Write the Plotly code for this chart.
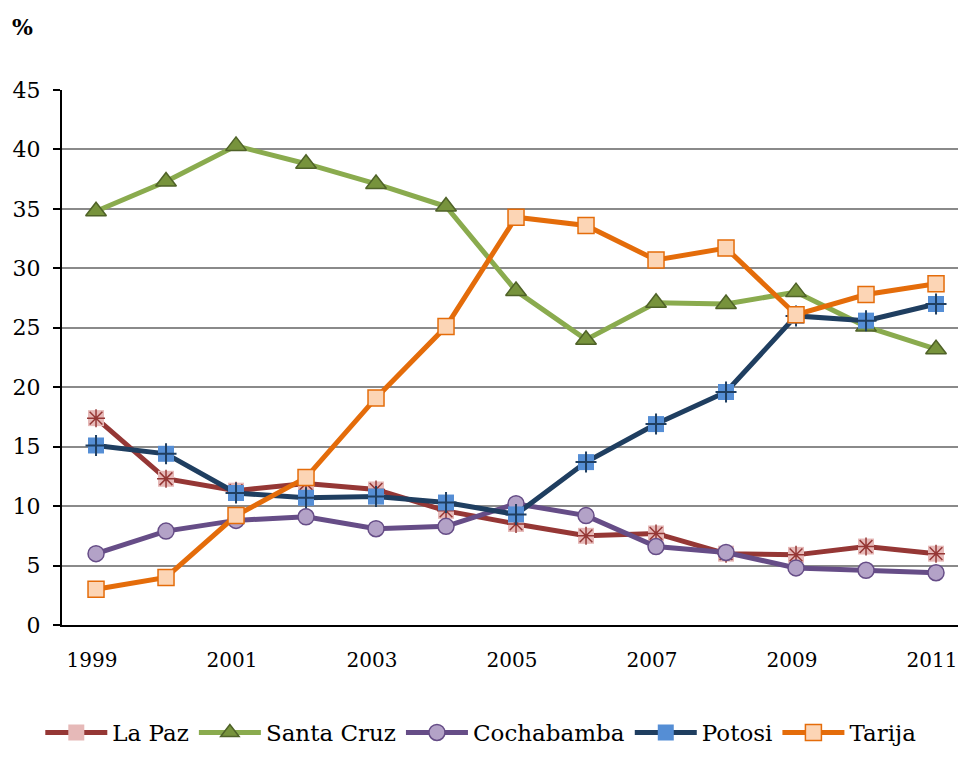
import plotly.graph_objects as go

years = list(range(1999, 2012))
x_ticks = [1999, 2001, 2003, 2005, 2007, 2009, 2011]

la_paz = [17.4, 12.3, 11.3, 11.9, 11.4, 9.6, 8.5, 7.5, 7.7, 6.0, 5.9, 6.6, 6.0]
santa_cruz = [34.8, 37.3, 40.3, 38.8, 37.1, 35.2, 28.1, 24.0, 27.1, 27.0, 28.0, 25.1, 23.2]
cochabamba = [6.0, 7.9, 8.8, 9.1, 8.1, 8.3, 10.2, 9.2, 6.6, 6.1, 4.8, 4.6, 4.4]
potosi = [15.1, 14.4, 11.1, 10.7, 10.8, 10.3, 9.3, 13.7, 16.9, 19.6, 26.0, 25.6, 27.0]
tarija = [3.0, 4.0, 9.2, 12.4, 19.1, 25.1, 34.3, 33.6, 30.7, 31.7, 26.1, 27.8, 28.7]

FONT = "DejaVu Serif, Georgia, serif"

fig = go.Figure()

# La Paz: pink square with a red asterisk on top
fig.add_trace(go.Scatter(
    x=years, y=la_paz, name='La Paz', mode='lines+markers',
    line=dict(color='#953735', width=5),
    marker=dict(symbol='square', size=16, color='#e6b9b8', line=dict(width=0))
))
fig.add_trace(go.Scatter(
    x=years, y=la_paz, mode='markers', showlegend=False, hoverinfo='skip',
    marker=dict(symbol='asterisk-open', size=15, color='#953735',
                line=dict(color='#953735', width=1.5))
))

fig.add_trace(go.Scatter(
    x=years, y=santa_cruz, name='Santa Cruz', mode='lines+markers',
    line=dict(color='#8aab4e', width=5),
    marker=dict(symbol='triangle-up', size=18, color='#77933c',
                line=dict(color='#4f6228', width=1.5))
))

fig.add_trace(go.Scatter(
    x=years, y=cochabamba, name='Cochabamba', mode='lines+markers',
    line=dict(color='#664d87', width=5),
    marker=dict(symbol='circle', size=16, color='#b3a2c7',
                line=dict(color='#664d87', width=1.5))
))

# Potosi: blue square with a dark cross
fig.add_trace(go.Scatter(
    x=years, y=potosi, name='Potosi', mode='lines+markers',
    line=dict(color='#1f3e60', width=5),
    marker=dict(symbol='square', size=16, color='#558ed5', line=dict(width=0))
))
fig.add_trace(go.Scatter(
    x=years, y=potosi, mode='markers', showlegend=False, hoverinfo='skip',
    marker=dict(symbol='cross-thin-open', size=15, color='#1f3e60',
                line=dict(color='#1f3e60', width=2))
))

fig.add_trace(go.Scatter(
    x=years, y=tarija, name='Tarija', mode='lines+markers',
    line=dict(color='#e46c0a', width=5),
    marker=dict(symbol='square', size=16, color='#fcd5b5',
                line=dict(color='#e46c0a', width=1.5))
))

fig.update_xaxes(
    range=[1998.514, 2011.314], tickvals=x_ticks, ticktext=[str(v) for v in x_ticks],
    showgrid=False, zeroline=False, showline=True, linecolor='black', linewidth=2,
    ticks='', ticklabelstandoff=16, ticklabelshift=-4, ticklabeloverflow='allow',
    tickfont=dict(family=FONT, size=20, color='black')
)
fig.update_yaxes(
    range=[0, 45], dtick=5, showgrid=True, gridcolor='#8a8a8a', gridwidth=2,
    zeroline=False, showline=True, linecolor='black', linewidth=2,
    ticks='outside', ticklen=7, tickwidth=2, tickcolor='black',
    ticklabelstandoff=8, tickfont=dict(family=FONT, size=22, color='black')
)

fig.add_annotation(
    text='<b>%</b>', xref='paper', yref='paper', x=-0.058, y=1.118,
    xanchor='left', yanchor='middle', showarrow=False,
    font=dict(family=FONT, size=22, color='black')
)

# page body has an 8px margin, so the figure is 950x749 to fit the window
fig.update_layout(
    width=950, height=749,
    margin=dict(l=54, r=0, t=82, b=132),
    plot_bgcolor='white', paper_bgcolor='white',
    showlegend=True,
    legend=dict(
        orientation='h', xref='container', yref='container',
        x=0.034, xanchor='left', y=0.004, yanchor='bottom',
        font=dict(family=FONT, size=23, color='black'),
        itemwidth=62, tracegroupgap=0
    )
)

fig.write_html("out.html")
